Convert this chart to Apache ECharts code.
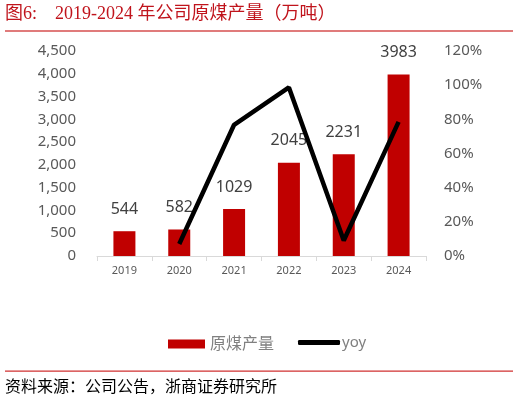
<!DOCTYPE html>
<html><head><meta charset="utf-8">
<script src="https://cdn.jsdelivr.net/npm/echarts@6/dist/echarts.min.js"></script>
<style>html,body{margin:0;padding:0;background:#fff}#c{width:520px;height:402px}</style>
</head><body><div id="c"></div>
<script>
var categories = ['2019','2020','2021','2022','2023','2024'];
var output = [544, 582, 1029, 2045, 2231, 3983];
var yoy = [null, 7.0, 76.8, 98.7, 9.1, 78.5];
var leftTicks = {min:0, max:4500, interval:500};
var rightTicks = {min:0, max:120, interval:20};

var chart = echarts.init(document.getElementById('c'));
var serif = '"Liberation Serif","DejaVu Serif","Noto Sans CJK SC",serif';
var sans = '"Noto Sans","Open Sans","Noto Sans CJK SC",sans-serif';
chart.setOption({
  animation:false,
  backgroundColor:'#fff',
  grid:{left:97, right:94, top:51, bottom:146},
  legend:[
    {data:['原煤产量'], left:163, top:331, itemWidth:37, itemHeight:9, icon:'rect',
     textStyle:{color:'#808080', fontSize:16, fontFamily:sans}},
    {data:['yoy'], left:293, top:330, itemWidth:42, itemHeight:5, icon:'roundRect', itemGap:0,
     textStyle:{color:'#808080', fontSize:15, fontFamily:sans, padding:[0,0,0,-3]}}
  ],
  xAxis:{type:'category', data:categories,
    axisLine:{lineStyle:{color:'#d9d9d9'}},
    axisTick:{show:true, length:5, lineStyle:{color:'#d9d9d9'}},
    axisLabel:{color:'#595959', fontSize:11, fontFamily:sans, margin:9}},
  yAxis:[
    {type:'value', min:leftTicks.min, max:leftTicks.max, interval:leftTicks.interval,
     splitLine:{show:false}, axisLine:{show:false}, axisTick:{show:false},
     axisLabel:{color:'#595959', fontSize:15, fontFamily:sans, margin:21,
       formatter:function(v){return v.toLocaleString('en-US');}}},
    {type:'value', min:rightTicks.min, max:rightTicks.max, interval:rightTicks.interval,
     splitLine:{show:false}, axisLine:{show:false}, axisTick:{show:false},
     axisLabel:{color:'#595959', fontSize:15, fontFamily:sans, margin:18,
       formatter:function(v){return v+'%';}}}
  ],
  series:[
    {name:'原煤产量', type:'bar', data:output, barWidth:22, itemStyle:{color:'#c00000'},
     label:{show:true, position:'top', distance:14, color:'#404040', fontSize:16, fontFamily:sans}},
    {name:'yoy', type:'line', yAxisIndex:1, data:yoy, showSymbol:false, symbol:'none',
     lineStyle:{color:'#000', width:4.5}, itemStyle:{color:'#000'}}
  ],
  graphic:[
    {type:'text', left:5, top:5, style:{text:'图6:', fill:'#c0141c', font:'18px '+serif}},
    {type:'text', left:55, top:5, style:{text:'2019-2024 年公司原煤产量（万吨）', fill:'#c0141c', font:'18px '+serif}},
    {type:'rect', shape:{x:5, y:30, width:508, height:2}, style:{fill:'#e07b7b'}},
    {type:'rect', shape:{x:5, y:370.5, width:508, height:1.2}, style:{fill:'#d03030'}},
    {type:'text', left:5, top:380, style:{text:'资料来源：公司公告，浙商证券研究所', fill:'#000', font:'16px '+serif}}
  ]
});
</script></body></html>
